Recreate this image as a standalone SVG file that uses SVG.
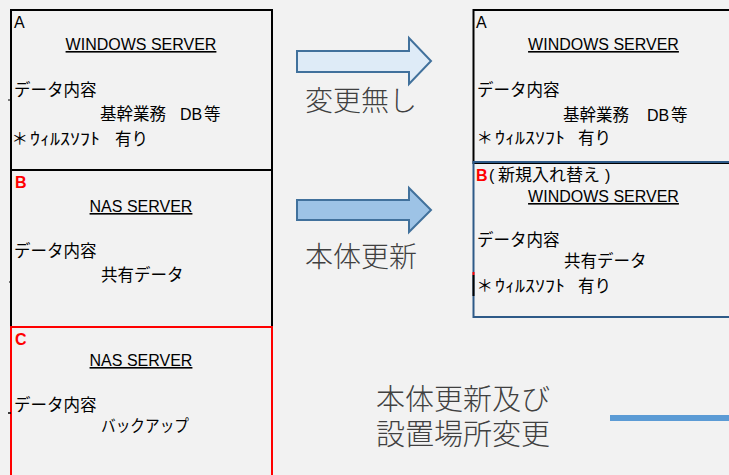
<svg xmlns="http://www.w3.org/2000/svg" width="729" height="475" viewBox="0 0 729 475">
<style>
.t{font-family:"Liberation Sans","Noto Sans CJK JP",sans-serif;font-size:16px;fill:#000}
.j{font-family:"Noto Sans CJK JP","Liberation Sans",sans-serif;font-size:16.5px;fill:#000}
.u{text-decoration:underline}
.r{fill:#ff0000;font-weight:bold}
.big{font-family:"Noto Sans CJK JP",sans-serif;font-size:28px;fill:#404040;font-weight:300}
.box{fill:none;stroke-width:2}
</style>
<rect width="729" height="475" fill="#f2f2f2"/>

<g id="nodeA">
<rect class="box" x="11" y="10" width="261" height="160" stroke="#000"/>
<text class="t" x="14" y="28">A</text>
<text class="t u" x="141" y="50" text-anchor="middle">WINDOWS SERVER</text>
<text class="j" x="14" y="96">データ内容</text>
<text class="j" x="100" y="120">基幹業務</text>
<text class="t" x="180" y="120">DB</text>
<text class="j" x="204" y="120">等</text>
<text class="j" x="11.5" y="145">＊</text>
<text class="j" x="30" y="145" textLength="70" lengthAdjust="spacingAndGlyphs">ｳｨﾙｽｿﾌﾄ</text>
<text class="j" x="115" y="145">有り</text>
<line x1="8" y1="100" x2="11" y2="100" stroke="#000" stroke-width="1"/>
</g>

<g id="nodeB">
<rect class="box" x="11" y="170" width="261" height="157" stroke="#000"/>
<text class="t r" x="15" y="188">B</text>
<text class="t u" x="141" y="212" text-anchor="middle">NAS SERVER</text>
<text class="j" x="14" y="257">データ内容</text>
<text class="j" x="101" y="281">共有データ</text>
<line x1="9" y1="282" x2="11" y2="282" stroke="#000" stroke-width="1"/>
</g>

<g id="nodeC">
<rect class="box" x="11" y="327" width="261" height="160" stroke="#ff0000"/>
<text class="t r" x="15" y="345">C</text>
<text class="t u" x="141" y="366" text-anchor="middle">NAS SERVER</text>
<text class="j" x="14" y="411">データ内容</text>
<text class="j" x="101" y="432" textLength="88" lengthAdjust="spacingAndGlyphs">バックアップ</text>
<line x1="8" y1="413" x2="11" y2="413" stroke="#000" stroke-width="1.5"/>
</g>

<g id="nodeA2">
<rect class="box" x="473.5" y="10" width="300" height="153" stroke="#000"/>
<text class="t" x="476" y="28">A</text>
<text class="t u" x="603.5" y="50" text-anchor="middle">WINDOWS SERVER</text>
<text class="j" x="477" y="96">データ内容</text>
<text class="j" x="563" y="121">基幹業務</text>
<text class="t" x="647" y="121">DB</text>
<text class="j" x="671" y="121">等</text>
<text class="j" x="476.5" y="144">＊</text>
<text class="j" x="495" y="144" textLength="70" lengthAdjust="spacingAndGlyphs">ｳｨﾙｽｿﾌﾄ</text>
<text class="j" x="578" y="144">有り</text>
</g>

<g id="nodeB2">
<rect class="box" x="473.5" y="162" width="300" height="155" stroke="#2e5a88"/>
<line x1="473.5" y1="272" x2="473.5" y2="275" stroke="#ff0000" stroke-width="2"/>
<line x1="473.5" y1="275" x2="473.5" y2="296" stroke="#000" stroke-width="2"/>
<text class="t r" x="476" y="181">B</text>
<text class="t" x="489" y="181">(</text>
<text class="j" x="498" y="181" textLength="102" lengthAdjust="spacingAndGlyphs">新規入れ替え</text>
<text class="t" x="605" y="181">)</text>
<text class="t u" x="603.5" y="202" text-anchor="middle">WINDOWS SERVER</text>
<text class="j" x="477" y="246">データ内容</text>
<text class="j" x="564" y="267">共有データ</text>
<text class="j" x="476.5" y="292">＊</text>
<text class="j" x="495" y="292" textLength="70" lengthAdjust="spacingAndGlyphs">ｳｨﾙｽｿﾌﾄ</text>
<text class="j" x="578" y="292">有り</text>
</g>

<g id="connectors">
<path d="M297,51 L409,51 L409,38 L431,61 L409,84 L409,72 L297,72 Z" fill="#deebf7" stroke="#41719c" stroke-width="2"/>
<path d="M297,200 L409,200 L409,188 L431,210 L409,232 L409,220 L297,220 Z" fill="#9dc3e6" stroke="#41719c" stroke-width="2"/>
<rect x="610" y="415" width="119" height="6" fill="#5b9bd5"/>
</g>

<g id="labels">
<text class="big" x="305" y="111">変更無し</text>
<text class="big" x="305" y="267">本体更新</text>
<text class="big" style="font-size:29px"><tspan x="376" y="410">本体更新及び</tspan><tspan x="376" y="445">設置場所変更</tspan></text>
</g>
</svg>
